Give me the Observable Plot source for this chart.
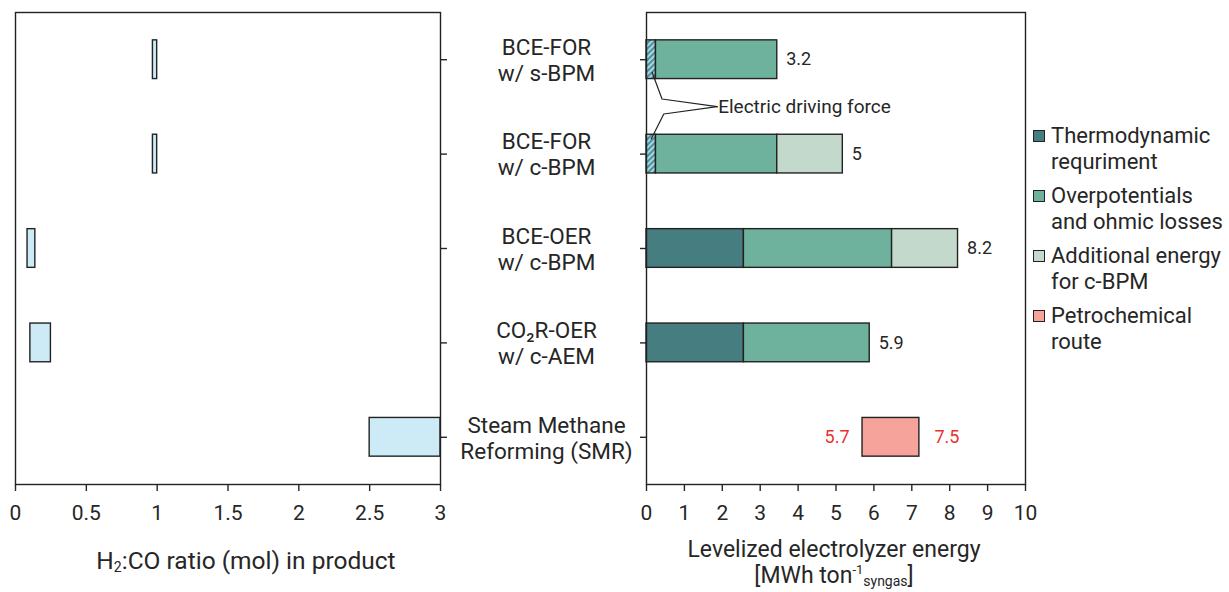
<!DOCTYPE html>
<html>
<head>
<meta charset="utf-8">
<script src="https://cdn.jsdelivr.net/npm/d3@7"></script>
<script src="https://cdn.jsdelivr.net/npm/@observablehq/plot@0.6"></script>
<style>
  body { margin: 0; background: #fff; font-family: Roboto, "Noto Sans", sans-serif; color: #222; }
  #wrap { position: relative; width: 1229px; height: 592px; overflow: hidden; }
  .abs { position: absolute; }
  .axlabel { text-align: center; white-space: nowrap; line-height: 26px; color: #262626; }
  .axlabel sub { font-size: 14px; vertical-align: -3px; line-height: 0; }
  .axlabel sup { font-size: 13px; vertical-align: 9px; line-height: 0; }
  #legend { left: 1033px; top: 123px; font-size: 22px; line-height: 26px; color: #262626; }
  .item { display: flex; align-items: flex-start; margin-bottom: 8px; white-space: nowrap; }
  .sw { width: 10px; height: 10px; border: 1.5px solid #222; margin-top: 7px; margin-right: 6px; flex: none; }
</style>
</head>
<body>
<div id="wrap"></div>
<script>
// ---------- data ----------
const categories = [
  "BCE-FOR\nw/ s-BPM",
  "BCE-FOR\nw/ c-BPM",
  "BCE-OER\nw/ c-BPM",
  "CO\u2082R-OER\nw/ c-AEM",
  "Steam Methane\nReforming (SMR)"
];
const rowIndex = [1, 2, 3, 4, 5];

// H2:CO ratio ranges (left panel)
const ratioLow  = [0.97, 0.97, 0.085, 0.105, 2.5];
const ratioHigh = [1.00, 1.00, 0.14, 0.25, 3.0];
const ratioTicks = [0, 0.5, 1, 1.5, 2, 2.5, 3];

// Levelized electrolyzer energy components (right panel), MWh per ton syngas
const seriesNames = ["Electric driving force", "Thermodynamic requriment", "Overpotentials and ohmic losses", "Additional energy for c-BPM"];
const electricDriving = [0.25, 0.25, 0, 0, 0];
const thermodynamic   = [0, 0, 2.57, 2.57, 0];
const overpotentials  = [3.2, 3.2, 3.91, 3.32, 0];
const additional      = [0, 1.73, 1.74, 0, 0];
const totalLabels     = ["3.2", "5", "8.2", "5.9", ""];

// Petrochemical route range (SMR)
const petroLow = 5.7;
const petroHigh = 7.2;
const petroLabels = ["5.7", "7.5"];
const energyTicks = [0, 1, 2, 3, 4, 5, 6, 7, 8, 9, 10];

// "Electric driving force" leader lines (energy, row coordinates)
const leaderUpper = [[0.15, 1.135], [0.41, 1.416], [1.865, 1.498]];
const leaderLower = [[1.865, 1.498], [0.456, 1.575], [0.124, 1.84]];
const annotationText = "Electric driving force";

// ---------- build tables ----------
const ratioRows = rowIndex.map((r, i) => ({row: r, lo: ratioLow[i], hi: ratioHigh[i]}));
const seriesValues = [electricDriving, thermodynamic, overpotentials, additional];
const segments = [];
const totals = [];
rowIndex.forEach((r, i) => {
  let acc = 0;
  seriesValues.forEach((vals, s) => {
    const v = vals[i];
    if (v > 0) { segments.push({row: r, x1: acc, x2: acc + v, series: seriesNames[s]}); acc += v; }
  });
  if (totalLabels[i]) totals.push({row: r, x: acc, label: totalLabels[i]});
});
const petroRow = [{row: 5, x1: petroLow, x2: petroHigh, series: "Petrochemical route"}];
const leaders = [
  ...leaderUpper.map(([x, y]) => ({x, y, z: "a"})),
  ...leaderLower.map(([x, y]) => ({x, y, z: "b"}))
];
const catRows = rowIndex.map((r, i) => ({row: r, label: categories[i]}));

const HALF = 0.205;
const ink = "#222";
const txt = "#262626";
const colorDomain = [...seriesNames, "Petrochemical route"];
const colorRange = ["url(#hatch)", "#467d81", "#6eb19c", "#c2d9cc", "#f5a39b"];

// ---------- left panel ----------
const left = Plot.plot({
  width: 460, height: 592,
  marginLeft: 15, marginRight: 20, marginTop: 12, marginBottom: 108,
  style: {fontFamily: "Roboto, sans-serif", fontSize: "21px", color: txt, background: "transparent"},
  x: {domain: [0, 3], label: null},
  y: {domain: [0.5, 5.5], reverse: true, label: null},
  marks: [
    Plot.rectX(ratioRows, {x1: "lo", x2: "hi", y1: d => d.row - HALF, y2: d => d.row + HALF,
      fill: "#cdeaf7", stroke: ink, strokeWidth: 1.4}),
    Plot.frame({stroke: ink, strokeWidth: 1.4}),
    Plot.axisX({ticks: ratioTicks, tickFormat: d => String(d), tickSize: 7, tickPadding: 14, fontSize: 21, strokeWidth: 1.4, label: null}),
    Plot.axisY({anchor: "right", ticks: rowIndex, tickFormat: () => "", tickSize: 6, strokeWidth: 1.4, label: null})
  ]
});

// ---------- right panel ----------
const right = Plot.plot({
  width: 600, height: 592,
  marginLeft: 206, marginRight: 15, marginTop: 12, marginBottom: 108,
  style: {fontFamily: "Roboto, sans-serif", fontSize: "21px", color: txt, background: "transparent"},
  x: {domain: [0, 10], label: null},
  y: {domain: [0.5, 5.5], reverse: true, label: null},
  color: {domain: colorDomain, range: colorRange},
  marks: [
    Plot.rectX(segments, {x1: "x1", x2: "x2", y1: d => d.row - HALF, y2: d => d.row + HALF,
      fill: "series", stroke: ink, strokeWidth: 1.4}),
    Plot.rectX(petroRow, {x1: "x1", x2: "x2", y1: d => d.row - HALF, y2: d => d.row + HALF,
      fill: "series", stroke: ink, strokeWidth: 1.4}),
    Plot.text(totals, {x: "x", y: "row", text: "label", dx: 9, textAnchor: "start", fontSize: 18, fill: txt}),
    Plot.text([petroLabels[0]], {x: petroLow, y: 5, text: d => d, dx: -13, textAnchor: "end", fontSize: 18, fill: "#e8332f"}),
    Plot.text([petroLabels[1]], {x: petroHigh, y: 5, text: d => d, dx: 15, textAnchor: "start", fontSize: 18, fill: "#e8332f"}),
    Plot.line(leaders, {x: "x", y: "y", z: "z", stroke: ink, strokeWidth: 1.2}),
    Plot.text([annotationText], {x: leaderUpper[2][0], y: leaderUpper[2][1], text: d => d, dx: 1, textAnchor: "start", fontSize: 19, fill: txt}),
    Plot.text(catRows, {x: 0, y: "row", text: "label", dx: -100, textAnchor: "middle", lineAnchor: "middle", lineHeight: 1.16, fontSize: 22.5, fill: txt}),
    Plot.frame({stroke: ink, strokeWidth: 1.4}),
    Plot.axisX({ticks: energyTicks, tickFormat: d => String(d), tickSize: 7, tickPadding: 14, fontSize: 21, strokeWidth: 1.4, label: null}),
    Plot.axisY({ticks: rowIndex, tickFormat: () => "", tickSize: 6, strokeWidth: 1.4, label: null})
  ]
});

// hatch pattern definition
const defs = d3.select(right).insert("defs", ":first-child");
const pat = defs.append("pattern").attr("id", "hatch").attr("patternUnits", "userSpaceOnUse")
  .attr("width", 4).attr("height", 4).attr("patternTransform", "rotate(45)");
pat.append("rect").attr("width", 4).attr("height", 4).attr("fill", "#a9d6df");
pat.append("line").attr("x1", 1).attr("y1", 0).attr("x2", 1).attr("y2", 4).attr("stroke", "#3f8996").attr("stroke-width", 1.8);

// ---------- assemble ----------
const wrap = document.getElementById("wrap");
left.classList.add("abs"); left.style.left = "0px"; left.style.top = "0px";
right.classList.add("abs"); right.style.left = "440px"; right.style.top = "0px";
wrap.appendChild(left);
wrap.appendChild(right);

const lab1 = document.createElement("div");
lab1.className = "abs axlabel";
lab1.style.cssText = "left:46px;width:400px;top:548px;font-size:24.5px;";
lab1.innerHTML = "H<sub>2</sub>:CO ratio (mol) in product";
wrap.appendChild(lab1);

const lab2 = document.createElement("div");
lab2.className = "abs axlabel";
lab2.style.cssText = "left:634px;width:400px;top:537px;font-size:23px;";
lab2.innerHTML = "Levelized electrolyzer energy<br>[MWh ton<sup>-1</sup><sub>syngas</sub>]";
wrap.appendChild(lab2);

// legend
const legendItems = [
  {name: "Thermodynamic<br>requriment", color: colorRange[1]},
  {name: "Overpotentials<br>and ohmic losses", color: colorRange[2]},
  {name: "Additional energy<br>for c-BPM", color: colorRange[3]},
  {name: "Petrochemical<br>route", color: colorRange[4]}
];
const legend = document.createElement("div");
legend.id = "legend"; legend.className = "abs";
legend.innerHTML = legendItems.map(d =>
  `<div class="item"><div class="sw" style="background:${d.color}"></div><div>${d.name}</div></div>`).join("");
wrap.appendChild(legend);
</script>
</body>
</html>
